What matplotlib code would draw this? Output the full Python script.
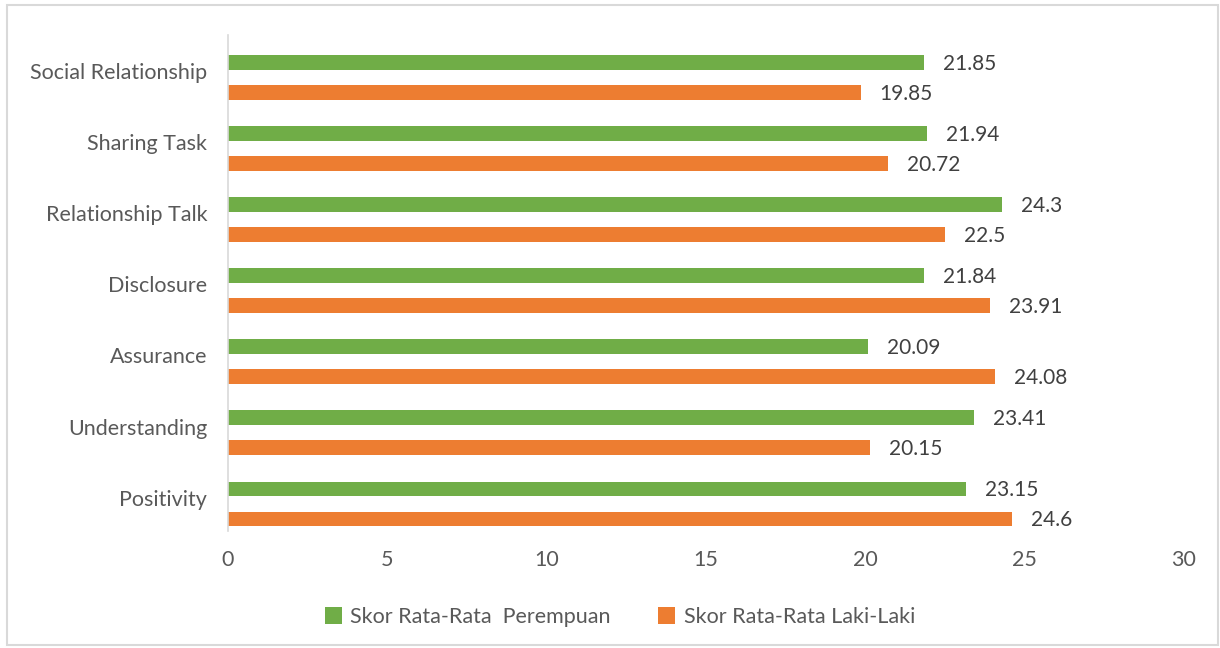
import numpy as np
import matplotlib.pyplot as plt
from matplotlib.patches import Rectangle

plt.rcParams['font.family'] = ['Lato', 'DejaVu Sans']

categories = ['Positivity', 'Understanding', 'Assurance', 'Disclosure',
              'Relationship Talk', 'Sharing Task', 'Social Relationship']
perempuan = [23.15, 23.41, 20.09, 21.84, 24.3, 21.94, 21.85]
laki_laki = [24.6, 20.15, 24.08, 23.91, 22.5, 20.72, 19.85]
label_p = ['23.15', '23.41', '20.09', '21.84', '24.3', '21.94', '21.85']
label_l = ['24.6', '20.15', '24.08', '23.91', '22.5', '20.72', '19.85']

green = '#70AD47'
orange = '#ED7D31'
txt = '#595959'

fig = plt.figure(figsize=(12.2, 6.48), dpi=100)
ax = fig.add_axes([228 / 1220, 1 - 531 / 648, (1184 - 228) / 1220, (531 - 35) / 648])

y = np.arange(len(categories))
h = 0.21
off = 0.211
ax.barh(y + off, perempuan, height=h, color=green, label='Skor Rata-Rata  Perempuan')
ax.barh(y - off, laki_laki, height=h, color=orange, label='Skor Rata-Rata Laki-Laki')

# label angka di ujung batang
for i in range(len(categories)):
    ax.text(perempuan[i] + 0.6, y[i] + off - 0.02, label_p[i], va='center', ha='left',
            fontsize=15, color='#404040')
    ax.text(laki_laki[i] + 0.6, y[i] - off - 0.02, label_l[i], va='center', ha='left',
            fontsize=15, color='#404040')

ax.set_xlim(0, 30)
ax.set_ylim(-0.38, 6.6)
ax.set_xticks(np.arange(0, 31, 5))
ax.set_yticks(y + 0.09)
ax.set_yticklabels(categories)
ax.tick_params(axis='both', length=0, labelsize=15.5, colors=txt)
ax.tick_params(axis='x', pad=14)
ax.tick_params(axis='y', pad=15)
for s in ['top', 'right', 'bottom']:
    ax.spines[s].set_visible(False)
ax.spines['left'].set_color('#D9D9D9')
ax.spines['left'].set_linewidth(1.2)

leg = fig.legend(loc='center', bbox_to_anchor=(620 / 1220, 1 - 617 / 648), ncol=2,
                 frameon=False, fontsize=15.5, handlelength=0.8, handleheight=0.8,
                 columnspacing=2.2, handletextpad=0.4)
for t in leg.get_texts():
    t.set_color(txt)

fig.patches.append(Rectangle((7 / 1220, 3 / 648), 1211 / 1220, 640 / 648,
                             transform=fig.transFigure, fill=False,
                             edgecolor='#D9D9D9', linewidth=1.5))

fig.savefig('out.png', dpi=100)
